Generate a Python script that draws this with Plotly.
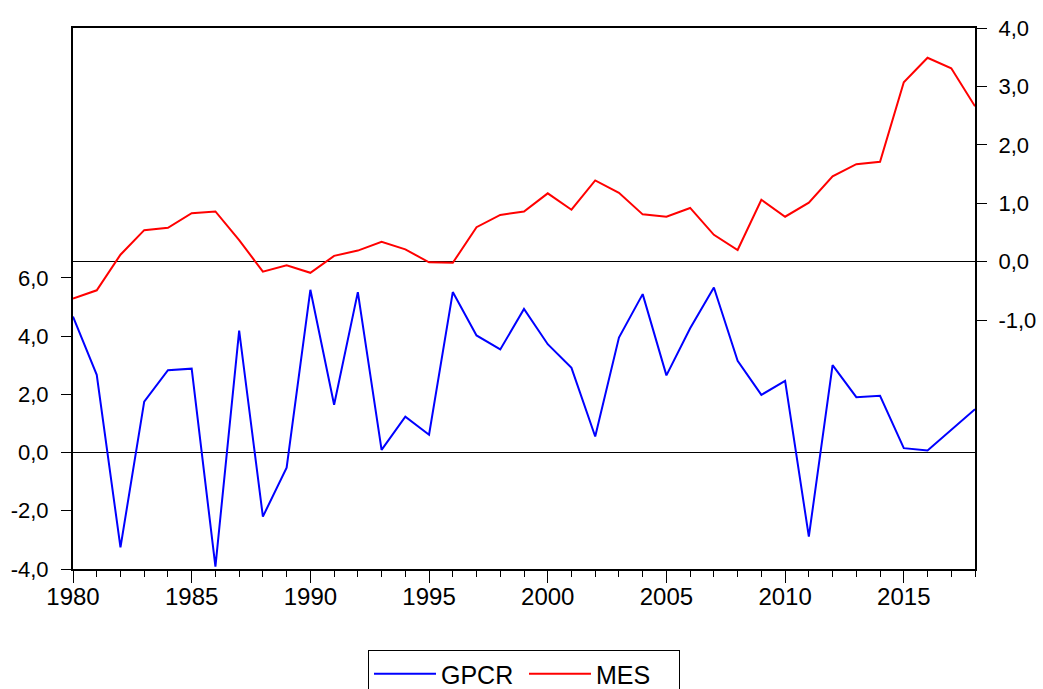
import plotly.graph_objects as go

years = list(range(1980, 2019))

gpcr = [4.67, 2.67, -3.26, 1.75, 2.83, 2.88, -3.92, 4.19, -2.20, -0.52,
        5.59, 1.64, 5.51, 0.09, 1.23, 0.61, 5.51, 4.02, 3.54, 4.93,
        3.72, 2.91, 0.55, 3.95, 5.44, 2.65, 4.27, 5.67, 3.15, 1.98,
        2.46, -2.89, 3.00, 1.90, 1.95, 0.15, 0.07, 0.78, 1.49]

mes = [-0.63, -0.49, 0.12, 0.54, 0.58, 0.83, 0.86, 0.37, -0.17, -0.06,
       -0.19, 0.10, 0.19, 0.34, 0.21, -0.01, -0.02, 0.59, 0.80, 0.86,
       1.17, 0.89, 1.39, 1.18, 0.81, 0.77, 0.92, 0.46, 0.20, 1.06,
       0.77, 1.01, 1.46, 1.67, 1.71, 3.07, 3.49, 3.31, 2.66]

left_ticks = [-4, -2, 0, 2, 4, 6]
left_labels = ["-4,0", "-2,0", "0,0", "2,0", "4,0", "6,0"]
right_ticks = [-1, 0, 1, 2, 3, 4]
right_labels = ["-1,0", "0,0", "1,0", "2,0", "3,0", "4,0"]
x_ticks = [1980, 1985, 1990, 1995, 2000, 2005, 2010, 2015]

font_family = "Arial, Liberation Sans, sans-serif"

fig = go.Figure()
fig.add_trace(go.Scatter(x=years, y=gpcr, name="GPCR", mode="lines",
                         line=dict(color="#0000FF", width=2), yaxis="y"))
fig.add_trace(go.Scatter(x=years, y=mes, name="MES", mode="lines",
                         line=dict(color="#FF0000", width=2), yaxis="y2"))

fig.update_layout(
    width=1043, height=689,
    margin=dict(l=73, r=68, t=28, b=120, autoexpand=False),
    paper_bgcolor="white", plot_bgcolor="white",
    font=dict(family=font_family, color="black"),
    showlegend=True,
    legend=dict(orientation="h", x=0.5, xanchor="center",
                yref="container", y=39 / 689, yanchor="top",
                bordercolor="black", borderwidth=1, font=dict(size=25),
                itemwidth=62, entrywidth=78, entrywidthmode="pixels"),
    xaxis=dict(range=[1980, 2018], tickvals=x_ticks, ticks="outside", ticklen=12,
               tickcolor="black", tickwidth=1, showgrid=False, zeroline=False,
               showline=True, linecolor="black", linewidth=2, mirror=True,
               tickfont=dict(size=24), ticklabelstandoff=-7,
               minor=dict(dtick=1, ticks="outside", ticklen=6, tickcolor="black", tickwidth=1)),
    yaxis=dict(range=[-4, 14.58], tickvals=left_ticks, ticktext=left_labels,
               ticks="outside", ticklen=10, tickcolor="black", showgrid=False,
               zeroline=True, zerolinecolor="black", zerolinewidth=1,
               showline=True, linecolor="black", linewidth=2,
               tickfont=dict(size=22), ticklabelstandoff=8),
    yaxis2=dict(range=[-5.26, 4.0], overlaying="y", side="right",
                tickvals=right_ticks, ticktext=right_labels,
                ticks="outside", ticklen=10, tickcolor="black", showgrid=False,
                zeroline=True, zerolinecolor="black", zerolinewidth=1,
                showline=True, linecolor="black", linewidth=2,
                tickfont=dict(size=22), ticklabelstandoff=7),
)

fig.write_html("out.html")
